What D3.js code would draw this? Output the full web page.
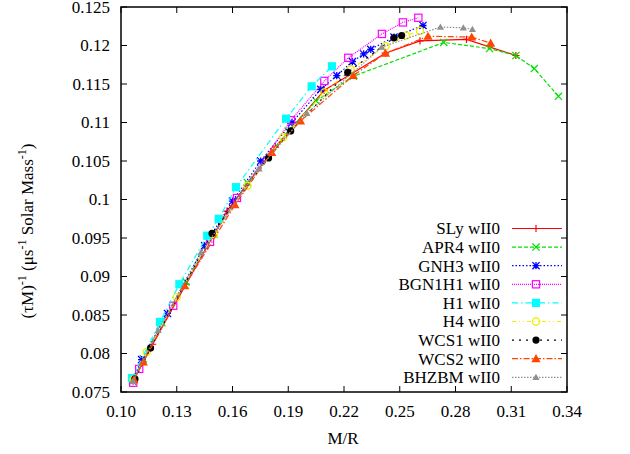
<!DOCTYPE html>
<html>
<head>
<meta charset="utf-8">
<script src="https://cdn.jsdelivr.net/npm/d3@7"></script>
<style>
  body { margin: 0; background: #fff; }
  svg { font-family: "Liberation Serif", "Times New Roman", serif; }
</style>
</head>
<body>
<svg id="chart" width="630" height="454"></svg>
<script>
// data: [M/R, (tau M)^-1]
const sly = [[0.1065,0.0764],[0.1170,0.0812],[0.1350,0.0890],[0.1570,0.0985],[0.1830,0.1068],[0.2094,0.1142],[0.2422,0.1190],[0.2609,0.1206],[0.2859,0.1208],[0.3125,0.1187]];
const apr4 = [[0.1062,0.0764],[0.1120,0.0793],[0.1220,0.0840],[0.1350,0.0893],[0.1500,0.0955],[0.1680,0.1022],[0.1900,0.1089],[0.2050,0.1128],[0.2250,0.1160],[0.2737,0.1204],[0.2983,0.1196],[0.3125,0.1187],[0.3224,0.1170],[0.3354,0.1134]];
const gnh3 = [[0.1063,0.0765],[0.1111,0.0792],[0.1250,0.0852],[0.1450,0.0940],[0.1600,0.0998],[0.1752,0.1050],[0.1920,0.1100],[0.2075,0.1143],[0.2161,0.1161],[0.2245,0.1179],[0.2306,0.1189],[0.2344,0.1195],[0.2469,0.1211],[0.2625,0.1226]];
const bgn1h1 = [[0.1066,0.0762],[0.1098,0.0780],[0.1281,0.0862],[0.1479,0.0945],[0.1624,0.1002],[0.1915,0.1103],[0.2094,0.1154],[0.2223,0.1184],[0.2404,0.1215],[0.2517,0.1230],[0.2600,0.1236]];
const h1 = [[0.1059,0.0768],[0.1210,0.0841],[0.1314,0.0890],[0.1464,0.0953],[0.1526,0.0975],[0.1619,0.1016],[0.1888,0.1105],[0.2026,0.1147],[0.2135,0.1173]];
const h4 = [[0.1068,0.0766],[0.1138,0.0802],[0.1300,0.0873],[0.1500,0.0955],[0.1680,0.1018],[0.1873,0.1081],[0.2094,0.1139],[0.2236,0.1169],[0.2423,0.1199],[0.2533,0.1213],[0.2609,0.1219]];
const wcs1 = [[0.1075,0.0767],[0.1159,0.0807],[0.1490,0.0956],[0.1794,0.1054],[0.1913,0.1089],[0.2220,0.1165],[0.2469,0.1210],[0.2510,0.1213]];
const wcs2 = [[0.1070,0.0766],[0.1120,0.0789],[0.1343,0.0888],[0.1613,0.0993],[0.1811,0.1061],[0.1966,0.1102],[0.2250,0.1161],[0.2423,0.1190],[0.2652,0.1212],[0.2887,0.1211],[0.2989,0.1203]];
const bhzbm = [[0.1065,0.0764],[0.1200,0.0830],[0.1430,0.0931],[0.1743,0.1040],[0.2000,0.1112],[0.2403,0.1198],[0.2719,0.1224],[0.2842,0.1223],[0.2891,0.1221]];

const seriesNames = ['SLy wII0','APR4 wII0','GNH3 wII0','BGN1H1 wII0','H1 wII0','H4 wII0','WCS1 wII0','WCS2 wII0','BHZBM wII0'];
const xTicks = [0.10,0.13,0.16,0.19,0.22,0.25,0.28,0.31,0.34];
const yTicks = [0.075,0.08,0.085,0.09,0.095,0.1,0.105,0.11,0.115,0.12,0.125];

// styles per series (gnuplot-like)
const styles = [
  { data: sly,    color: '#ff0000', dash: null,          mark: 'plus' },
  { data: apr4,   color: '#00e000', dash: '4,2',         mark: 'cross' },
  { data: gnh3,   color: '#0000ff', dash: '1.5,2',       mark: 'star' },
  { data: bgn1h1, color: '#ff00ff', dash: '1,1',         mark: 'osquare' },
  { data: h1,     color: '#00ffff', dash: '6,3,1.5,3',   mark: 'fsquare' },
  { data: h4,     color: '#eeee00', dash: '4,3,1,3,1,3', mark: 'ocircle' },
  { data: wcs1,   color: '#000000', dash: '2,5',         mark: 'fcircle' },
  { data: wcs2,   color: '#ff4500', dash: '6,2,1.5,2',   mark: 'ftri' },
  { data: bhzbm,  color: '#909090', dash: '1.5,1.5',     mark: 'stri' }
];

const svg = d3.select('#chart');
const margin = { left: 121, right: 567, top: 7, bottom: 392 };

const x = d3.scaleLinear().domain([0.10, 0.34]).range([margin.left, margin.right]);
const y = d3.scaleLinear().domain([0.075, 0.125]).range([margin.bottom, margin.top]);

// ticks (inward, mirrored)
const tk = svg.append('g').attr('stroke', '#000').attr('stroke-width', 1);
xTicks.forEach(v => {
  tk.append('line').attr('x1', x(v)).attr('x2', x(v)).attr('y1', margin.bottom).attr('y2', margin.bottom - 6);
  tk.append('line').attr('x1', x(v)).attr('x2', x(v)).attr('y1', margin.top).attr('y2', margin.top + 6);
});
yTicks.forEach(v => {
  tk.append('line').attr('x1', margin.left).attr('x2', margin.left + 6).attr('y1', y(v)).attr('y2', y(v));
  tk.append('line').attr('x1', margin.right).attr('x2', margin.right - 6).attr('y1', y(v)).attr('y2', y(v));
});

// tick labels
svg.append('g').selectAll('text').data(xTicks).join('text')
  .attr('x', d => x(d)).attr('y', 417)
  .attr('text-anchor', 'middle').style('font-size', '17px')
  .text(d => d3.format('.2f')(d));
svg.append('g').selectAll('text').data(yTicks).join('text')
  .attr('x', 110).attr('y', d => y(d)).attr('dy', '0.35em')
  .attr('text-anchor', 'end').style('font-size', '17px')
  .text(d => String(+d.toFixed(3)));

// axis titles
svg.append('text').attr('x', 343).attr('y', 444)
  .attr('text-anchor', 'middle').style('font-size', '17px').text('M/R');

const yl = svg.append('text')
  .attr('transform', 'translate(33,231) rotate(-90)')
  .attr('text-anchor', 'middle').style('font-size', '17px');
yl.append('tspan').text('(τM)');
yl.append('tspan').attr('dy', -7).style('font-size', '12px').text('-1');
yl.append('tspan').attr('dy', 7).text(' (μs');
yl.append('tspan').attr('dy', -7).style('font-size', '12px').text('-1');
yl.append('tspan').attr('dy', 7).text(' Solar Mass');
yl.append('tspan').attr('dy', -7).style('font-size', '12px').text('-1');
yl.append('tspan').attr('dy', 7).text(')');

// marker drawing
function drawMark(g, type, cx, cy, color) {
  const s = 3.6;
  if (type === 'plus') {
    g.append('path').attr('d', `M${cx - s},${cy}H${cx + s}M${cx},${cy - s}V${cy + s}`)
      .attr('stroke', color).attr('stroke-width', 1.2).attr('fill', 'none');
  } else if (type === 'cross') {
    g.append('path').attr('d', `M${cx - s},${cy - s}L${cx + s},${cy + s}M${cx - s},${cy + s}L${cx + s},${cy - s}`)
      .attr('stroke', color).attr('stroke-width', 1.2).attr('fill', 'none');
  } else if (type === 'star') {
    g.append('path').attr('d', `M${cx - s},${cy}H${cx + s}M${cx},${cy - s}V${cy + s}M${cx - s},${cy - s}L${cx + s},${cy + s}M${cx - s},${cy + s}L${cx + s},${cy - s}`)
      .attr('stroke', color).attr('stroke-width', 1.3).attr('fill', 'none');
  } else if (type === 'osquare') {
    g.append('rect').attr('x', cx - s).attr('y', cy - s).attr('width', 2 * s).attr('height', 2 * s)
      .attr('stroke', color).attr('stroke-width', 1.2).attr('fill', 'none');
  } else if (type === 'fsquare') {
    g.append('rect').attr('x', cx - s - 0.5).attr('y', cy - s - 0.5).attr('width', 2 * s + 1).attr('height', 2 * s + 1)
      .attr('fill', color);
  } else if (type === 'ocircle') {
    g.append('circle').attr('cx', cx).attr('cy', cy).attr('r', s)
      .attr('stroke', color).attr('stroke-width', 1.3).attr('fill', 'none');
  } else if (type === 'fcircle') {
    g.append('circle').attr('cx', cx).attr('cy', cy).attr('r', s).attr('fill', color);
  } else if (type === 'ftri') {
    const t = 4.6;
    g.append('path').attr('d', `M${cx},${cy - t}L${cx + t},${cy + t * 0.75}L${cx - t},${cy + t * 0.75}Z`).attr('fill', color);
  } else if (type === 'stri') {
    const t = 3.6;
    g.append('path').attr('d', `M${cx},${cy - t}L${cx + t},${cy + t * 0.75}L${cx - t},${cy + t * 0.75}Z`).attr('fill', color);
  }
}

const line = d3.line().x(d => x(d[0])).y(d => y(d[1]));

styles.forEach(s => {
  const g = svg.append('g');
  g.append('path').datum(s.data).attr('d', line)
    .attr('fill', 'none').attr('stroke', s.color).attr('stroke-width', 1.2)
    .attr('stroke-dasharray', s.dash);
  s.data.forEach(d => drawMark(g, s.mark, x(d[0]), y(d[1]), s.color));
});

// legend
styles.forEach((s, i) => {
  const ly = 228.5 + i * 18.6;
  const g = svg.append('g');
  g.append('text').attr('x', 500).attr('y', ly).attr('dy', '0.35em')
    .attr('text-anchor', 'end').style('font-size', '17px').text(seriesNames[i]);
  g.append('line').attr('x1', 512).attr('x2', 562).attr('y1', ly).attr('y2', ly)
    .attr('stroke', s.color).attr('stroke-width', 1.2).attr('stroke-dasharray', s.dash);
  drawMark(g, s.mark, 536, ly, s.color);
});

// border
svg.append('rect').attr('x', margin.left).attr('y', margin.top)
  .attr('width', margin.right - margin.left).attr('height', margin.bottom - margin.top)
  .attr('fill', 'none').attr('stroke', '#000').attr('stroke-width', 1.5);
</script>
</body>
</html>
